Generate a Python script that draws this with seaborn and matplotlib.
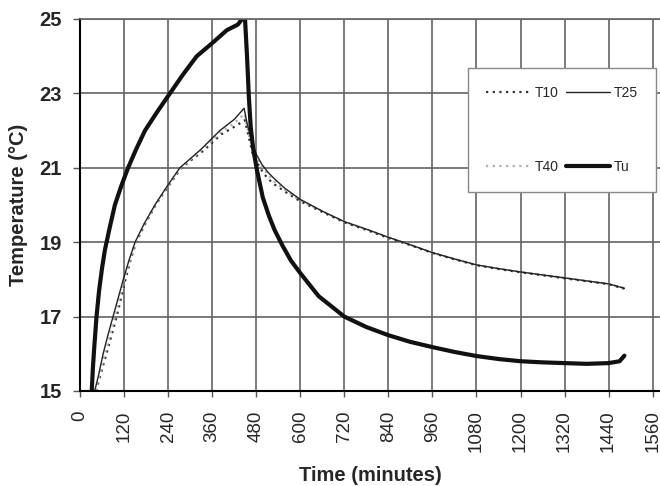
#!/usr/bin/env python3
"""Temperature vs time for T10, T25, T40 and Tu (heating then cooling)."""

import pandas as pd
import matplotlib
matplotlib.use("Agg")
import matplotlib.pyplot as plt
import seaborn as sns

# Data (minutes, degC)
tu_time = [32, 35, 39, 45, 52, 60, 68, 80, 95, 112, 131, 153, 177, 210, 245,
           280, 318, 360, 400, 430, 449, 455, 460, 465, 472, 482, 498, 515, 530,
           552, 575, 600, 650, 720, 780, 840, 900, 960, 1020, 1080, 1140, 1200,
           1260, 1320, 1380, 1440, 1470, 1483]
tu_temp = [15.0, 15.6, 16.2, 17.0, 17.7, 18.3, 18.8, 19.35, 20.0, 20.5, 21.0,
           21.5, 22.0, 22.5, 23.0, 23.5, 24.0, 24.35, 24.7, 24.85, 25.1, 24.0,
           22.9, 22.1, 21.5, 20.94, 20.2, 19.7, 19.33, 18.9, 18.5, 18.17, 17.55,
           17.0, 16.72, 16.5, 16.32, 16.18, 16.05, 15.94, 15.86, 15.8, 15.77,
           15.75, 15.73, 15.75, 15.8, 15.95]

t25_time = [40, 50, 63, 76, 90, 104, 118, 133, 150, 175, 204, 237, 272, 330,
            381, 420, 447, 455, 468, 481, 495, 512, 530, 558, 600, 667, 721, 780,
            838, 900, 960, 1020, 1080, 1140, 1200, 1260, 1320, 1380, 1440, 1483]
t25_temp = [15.0, 15.4, 16.0, 16.5, 17.0, 17.5, 18.0, 18.5, 19.0, 19.5, 20.0,
            20.5, 21.0, 21.5, 22.0, 22.3, 22.6, 22.2, 21.7, 21.35, 21.1, 20.88,
            20.7, 20.45, 20.15, 19.8, 19.55, 19.35, 19.14, 18.93, 18.72, 18.55,
            18.39, 18.29, 18.2, 18.12, 18.04, 17.96, 17.88, 17.76]

t10_time = [44, 56, 72, 86, 100, 112, 124, 137, 153, 178, 206, 240, 276, 335,
            385, 420, 449, 458, 470, 485, 500, 515, 530, 560, 600, 667, 721, 780,
            838, 900, 960, 1020, 1080, 1140, 1200, 1260, 1320, 1380, 1440, 1483]
t10_temp = [15.0, 15.45, 16.0, 16.5, 17.0, 17.5, 18.0, 18.5, 19.0, 19.5, 20.0,
            20.5, 21.0, 21.45, 21.9, 22.1, 22.28, 21.9, 21.4, 21.1, 20.85, 20.68,
            20.55, 20.35, 20.1, 19.78, 19.53, 19.33, 19.12, 18.92, 18.71, 18.54,
            18.38, 18.28, 18.19, 18.11, 18.03, 17.95, 17.87, 17.75]

t40_time = [42, 53, 68, 82, 95, 108, 120, 135, 151, 176, 205, 238, 274, 332,
            383, 420, 448, 456, 469, 483, 497, 513, 530, 559, 600, 667, 721, 780,
            838, 900, 960, 1020, 1080, 1140, 1200, 1260, 1320, 1380, 1440, 1483]
t40_temp = [15.0, 15.42, 16.0, 16.5, 17.0, 17.5, 18.0, 18.5, 19.0, 19.5, 20.0,
            20.5, 21.0, 21.48, 21.95, 22.2, 22.45, 22.05, 21.55, 21.22, 21.0,
            20.8, 20.62, 20.4, 20.12, 19.8, 19.55, 19.35, 19.14, 18.93, 18.72,
            18.55, 18.39, 18.29, 18.2, 18.12, 18.04, 17.96, 17.88, 17.77]

x_ticks = list(range(0, 1561, 120))
y_ticks = [15, 17, 19, 21, 23, 25]


def main():
    sns.set_theme(style="white")
    plt.rcParams["font.family"] = ["Liberation Sans", "DejaVu Sans"]

    fig = plt.figure(figsize=(6.6, 4.86), dpi=100)
    ax = fig.add_axes([80 / 660, 1 - 391 / 486, 580 / 660, 372 / 486])

    series = [
        ("T10", t10_time, t10_temp, dict(color="#333333", lw=1.6, ls=(0, (1, 2)))),
        ("T40", t40_time, t40_temp, dict(color="#b0b0b0", lw=1.6, ls=(0, (1, 2)))),
        ("T25", t25_time, t25_temp, dict(color="#222222", lw=1.0, ls="-")),
        ("Tu", tu_time, tu_temp, dict(color="#111111", lw=3.0, ls="-")),
    ]
    for name, t, v, style in series:
        df = pd.DataFrame({"time": t, "temp": v})
        sns.lineplot(data=df, x="time", y="temp", ax=ax, sort=False,
                     estimator=None, label=name, color=style["color"],
                     linewidth=style["lw"], linestyle=style["ls"])

    ax.set_xlim(0, 1580)
    ax.set_ylim(15, 25)
    ax.set_xticks(x_ticks)
    ax.set_yticks(y_ticks)
    ax.grid(True, color="#636363", linewidth=1.2)
    ax.set_axisbelow(True)

    for side in ["left", "bottom"]:
        ax.spines[side].set_color("black")
        ax.spines[side].set_linewidth(1.5)
    ax.spines["top"].set_color("#636363")
    ax.spines["top"].set_linewidth(1.2)
    ax.spines["right"].set_visible(False)

    ax.tick_params(axis="x", direction="out", length=4, width=1, color="#555555",
                   pad=10, labelsize=13.5, labelrotation=90, bottom=True)
    ax.tick_params(axis="y", direction="out", length=5, width=1, color="#555555",
                   pad=8, labelsize=14.5, left=True)
    for lbl in ax.get_yticklabels():
        lbl.set_fontweight("bold")

    ax.set_xlabel("Time (minutes)", fontsize=14.5, fontweight="bold", labelpad=10)
    ax.set_ylabel("Temperature (\u00b0C)", fontsize=14.5, fontweight="bold",
                  labelpad=8)

    leg = ax.legend(ncol=2, loc="upper left", bbox_to_anchor=(0.669, 0.868),
                    fontsize=10, frameon=True, fancybox=False,
                    edgecolor="#888888", framealpha=1, handlelength=3.2,
                    handletextpad=0.3, columnspacing=0.5, labelspacing=4.3,
                    borderpad=1.3, borderaxespad=0)
    leg.get_frame().set_linewidth(1.0)

    fig.savefig("out.png", dpi=100, facecolor="white")
    plt.close(fig)


if __name__ == "__main__":
    main()
